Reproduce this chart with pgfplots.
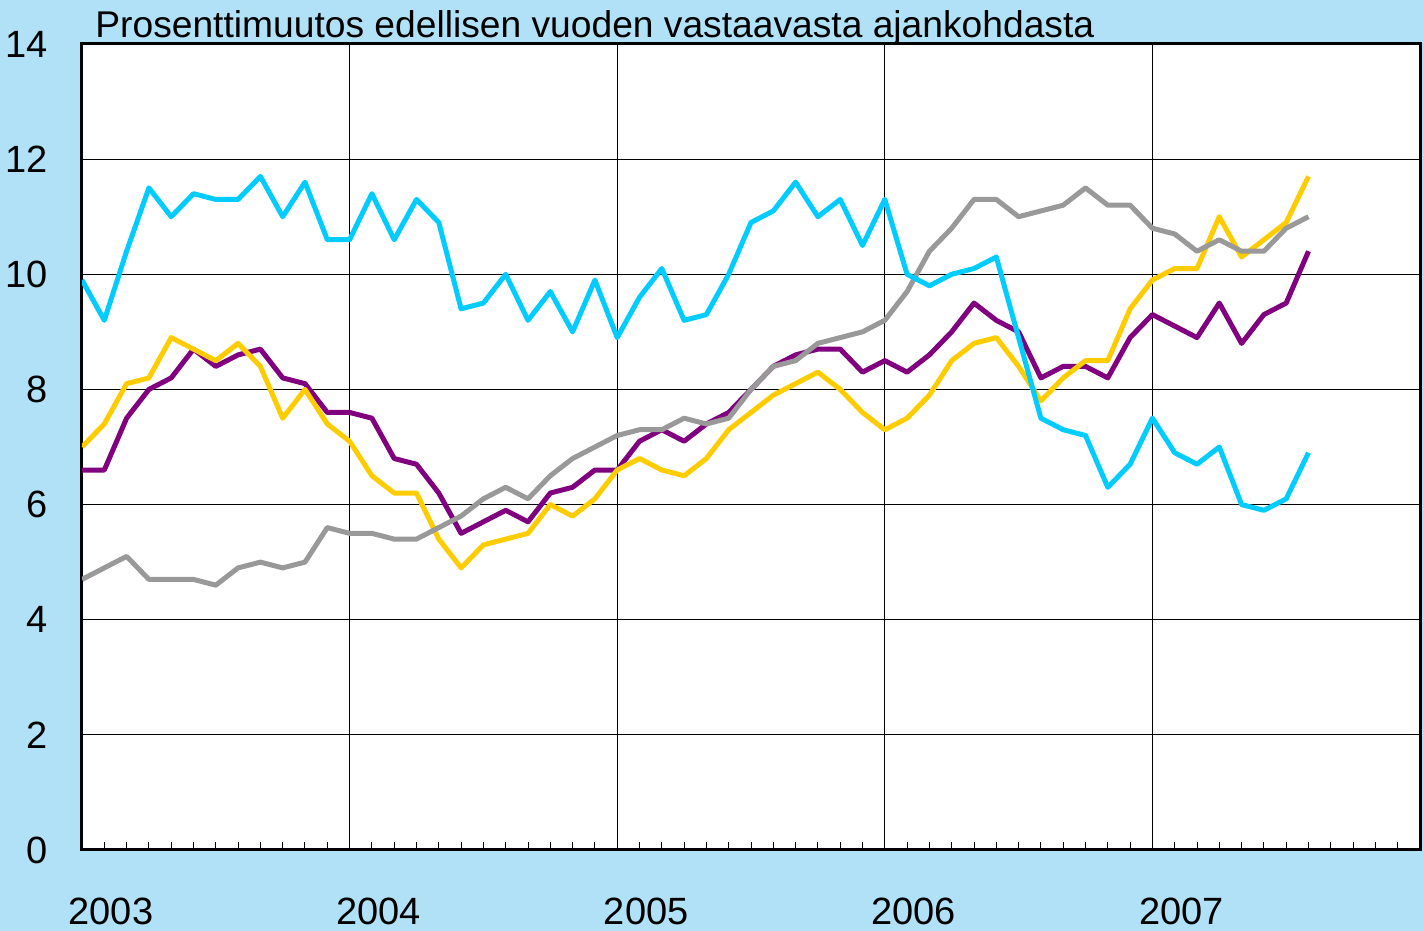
\documentclass[border=0pt]{standalone}
\usepackage{pgfplots}
\usepackage{pgfplotstable}
\pgfplotsset{compat=1.18}
\usepackage{fontspec}
\setmainfont{Liberation Sans}
\definecolor{bgblue}{RGB}{176,225,246}
\definecolor{scyan}{RGB}{0,204,255}
\definecolor{spurple}{RGB}{128,0,128}
\definecolor{syellow}{RGB}{255,204,0}
\definecolor{sgray}{RGB}{153,153,153}
\pgfplotstableread{
m cyan purple yellow gray
0 9.9 6.6 7.0 4.7
1 9.2 6.6 7.4 4.9
2 10.4 7.5 8.1 5.1
3 11.5 8.0 8.2 4.7
4 11.0 8.2 8.9 4.7
5 11.4 8.7 8.7 4.7
6 11.3 8.4 8.5 4.6
7 11.3 8.6 8.8 4.9
8 11.7 8.7 8.4 5.0
9 11.0 8.2 7.5 4.9
10 11.6 8.1 8.0 5.0
11 10.6 7.6 7.4 5.6
12 10.6 7.6 7.1 5.5
13 11.4 7.5 6.5 5.5
14 10.6 6.8 6.2 5.4
15 11.3 6.7 6.2 5.4
16 10.9 6.2 5.4 5.6
17 9.4 5.5 4.9 5.8
18 9.5 5.7 5.3 6.1
19 10.0 5.9 5.4 6.3
20 9.2 5.7 5.5 6.1
21 9.7 6.2 6.0 6.5
22 9.0 6.3 5.8 6.8
23 9.9 6.6 6.1 7.0
24 8.9 6.6 6.6 7.2
25 9.6 7.1 6.8 7.3
26 10.1 7.3 6.6 7.3
27 9.2 7.1 6.5 7.5
28 9.3 7.4 6.8 7.4
29 10.0 7.6 7.3 7.5
30 10.9 8.0 7.6 8.0
31 11.1 8.4 7.9 8.4
32 11.6 8.6 8.1 8.5
33 11.0 8.7 8.3 8.8
34 11.3 8.7 8.0 8.9
35 10.5 8.3 7.6 9.0
36 11.3 8.5 7.3 9.2
37 10.0 8.3 7.5 9.7
38 9.8 8.6 7.9 10.4
39 10.0 9.0 8.5 10.8
40 10.1 9.5 8.8 11.3
41 10.3 9.2 8.9 11.3
42 8.9 9.0 8.4 11.0
43 7.5 8.2 7.8 11.1
44 7.3 8.4 8.2 11.2
45 7.2 8.4 8.5 11.5
46 6.3 8.2 8.5 11.2
47 6.7 8.9 9.4 11.2
48 7.5 9.3 9.9 10.8
49 6.9 9.1 10.1 10.7
50 6.7 8.9 10.1 10.4
51 7.0 9.5 11.0 10.6
52 6.0 8.8 10.3 10.4
53 5.9 9.3 10.6 10.4
54 6.1 9.5 10.9 10.8
55 6.9 10.4 11.7 11.0
}\data
\begin{document}
\begin{tikzpicture}
\fill[bgblue] (-41pt,-40.5pt) rectangle (671pt,425pt);
\begin{axis}[
  at={(0,0)}, anchor=south west,
  scale only axis, width=669pt, height=403pt,
  xmin=0, xmax=60, ymin=0, ymax=14,
  axis background/.style={fill=white},
  xtick={0,12,24,36,48}, xticklabels={2003,2004,2005,2006,2007},
  minor xtick={1,...,59},
  ytick={0,2,...,14},
  xmajorgrids, ymajorgrids,
  major grid style={black, line width=0.6pt},
  tick align=inside,
  major tick length=0pt,
  minor tick length=4pt,
  minor tick style={black, line width=0.5pt},
  xtick pos=bottom, ytick pos=left,
  axis line style={black, line width=1.5pt},
  ticklabel style={font=\fontsize{19}{22}\selectfont},
  /pgf/number format/assume math mode=true,
  xticklabel style={anchor=north, inner sep=0pt, xshift=14.5pt, yshift=-24pt},
  yticklabel style={anchor=east, inner sep=0pt, xshift=-17pt},
  every axis plot/.append style={line width=2.5pt, no markers, line join=round},
]
\addplot[spurple] table[x=m, y=purple] {\data};
\addplot[syellow] table[x=m, y=yellow] {\data};
\addplot[sgray] table[x=m, y=gray] {\data};
\addplot[scyan] table[x=m, y=cyan] {\data};
\end{axis}
\node[anchor=base west, inner sep=0pt, font=\fontsize{18.6}{22}\selectfont] at (6.5pt,406.25pt) {Prosenttimuutos edellisen vuoden vastaavasta ajankohdasta};
\pgfresetboundingbox
\path[use as bounding box] (-41pt,-40.5pt) rectangle (671pt,425pt);
\end{tikzpicture}
\end{document}
